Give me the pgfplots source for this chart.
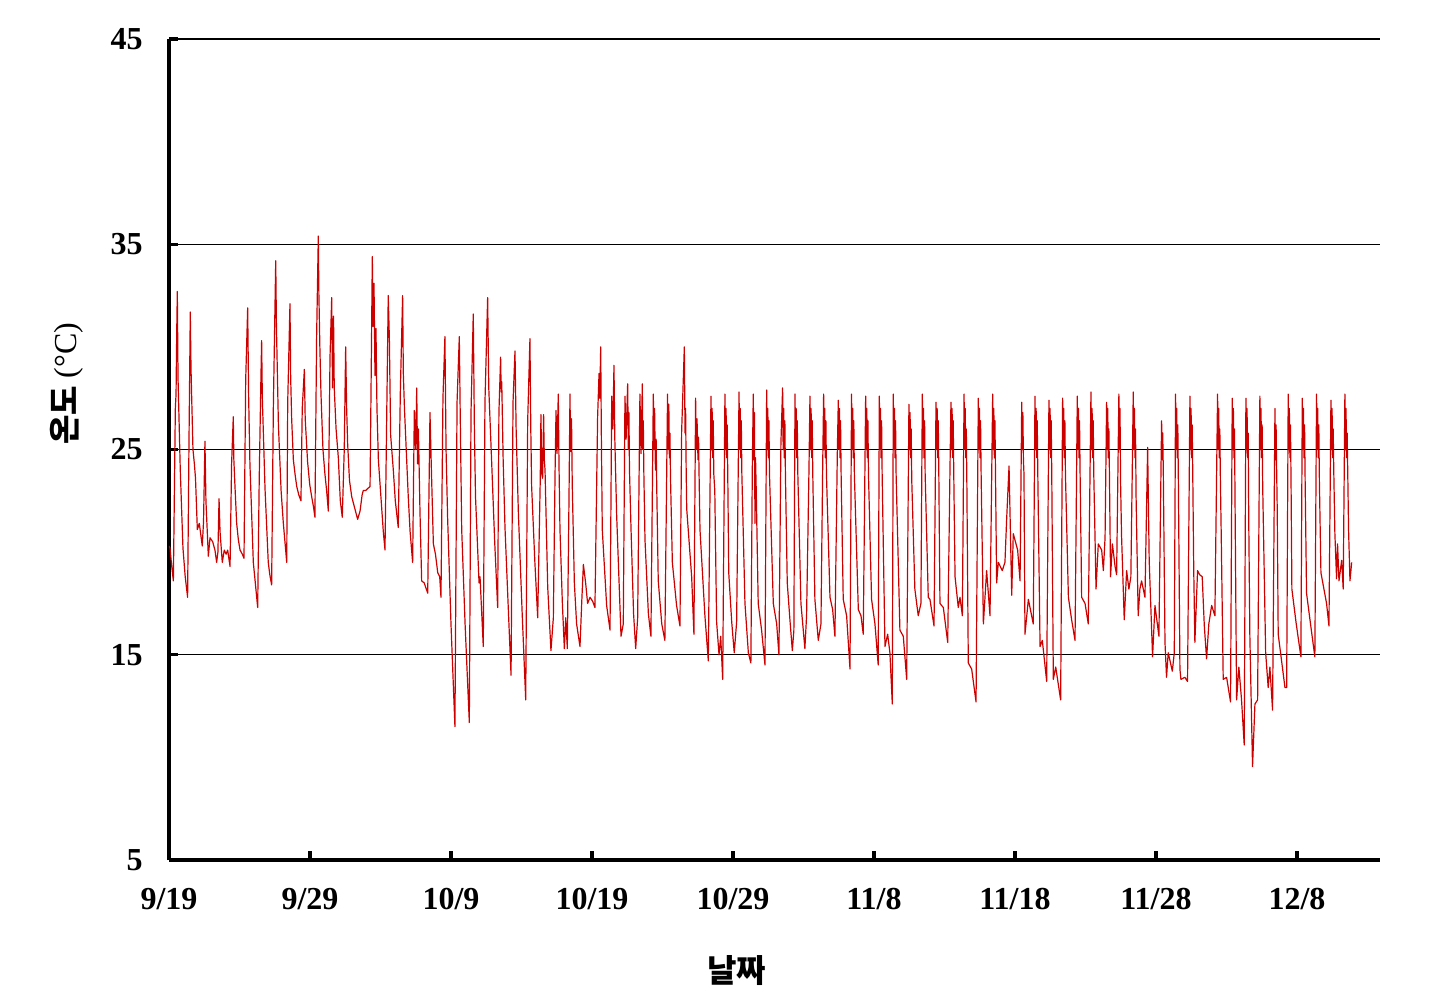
\documentclass[border=0pt]{standalone}
\usepackage{pgfplots}
\pgfplotsset{compat=1.18}
\usepackage{fontspec}
\setmainfont{Liberation Serif}
\newfontfamily\kr{Noto Sans CJK KR}
\definecolor{linered}{RGB}{205,0,0}
\pgfplotstableread{
x y
0.00 20.3
0.07 20.2
0.18 19.4
0.31 18.6
0.45 27.0
0.50 27.7
0.55 30.8
0.59 32.7
0.64 28.5
0.80 24.0
0.99 20.2
1.15 18.8
1.32 17.8
1.42 25.5
1.51 31.7
1.56 29.0
1.60 27.8
1.70 25.0
1.80 24.3
1.88 23.6
2.01 21.1
2.15 21.4
2.36 20.3
2.45 21.5
2.55 25.4
2.62 22.5
2.79 19.8
2.91 20.7
3.10 20.5
3.26 20.1
3.38 19.5
3.47 20.0
3.55 22.6
3.62 21.0
3.78 19.5
3.92 20.1
4.05 19.9
4.16 20.1
4.33 19.3
4.44 24.3
4.56 26.6
4.60 24.5
4.68 23.2
4.80 21.4
4.92 20.6
5.04 20.1
5.20 19.9
5.32 19.7
5.44 28.4
5.58 31.9
5.65 27.5
5.74 24.3
5.98 19.5
6.15 18.3
6.29 17.3
6.40 23.6
6.52 28.5
6.57 30.3
6.62 27.5
6.81 23.1
7.04 19.5
7.15 18.9
7.28 18.4
7.40 27.0
7.57 34.2
7.62 31.0
7.76 26.2
7.95 23.0
8.11 21.4
8.25 20.3
8.35 19.5
8.42 27.3
8.58 32.1
8.63 28.5
8.70 26.5
8.82 24.5
8.94 23.8
9.06 23.2
9.20 22.8
9.36 22.5
9.45 27.0
9.60 28.9
9.66 26.5
9.83 24.4
9.98 23.3
10.12 22.7
10.25 22.2
10.35 21.7
10.47 30.5
10.59 35.4
10.63 32.6
10.70 30.0
10.78 27.7
10.92 25.0
11.06 23.8
11.18 23.0
11.30 22.0
11.42 29.5
11.54 32.4
11.60 28.0
11.67 31.5
11.72 28.0
11.85 26.0
12.01 24.6
12.15 22.5
12.29 21.7
12.43 25.0
12.53 30.0
12.60 27.0
12.67 25.3
12.80 23.5
12.96 22.7
13.15 22.2
13.38 21.6
13.55 22.0
13.70 22.8
13.78 23.0
13.95 23.0
14.10 23.1
14.26 23.2
14.36 30.0
14.42 34.4
14.48 31.0
14.54 33.1
14.61 28.6
14.68 30.9
14.75 27.0
14.85 24.5
15.05 22.5
15.20 21.0
15.32 20.1
15.43 26.0
15.55 32.5
15.63 30.4
15.72 25.7
15.91 24.0
16.05 22.5
16.26 21.2
16.41 27.9
16.57 32.5
16.62 28.7
16.70 27.0
16.97 22.7
17.10 21.0
17.28 19.5
17.40 26.9
17.50 25.0
17.57 28.0
17.63 24.3
17.69 26.0
17.80 22.0
17.92 18.6
18.10 18.5
18.20 18.3
18.35 18.0
18.51 26.8
18.60 24.3
18.75 20.4
18.90 19.9
19.06 19.0
19.20 18.8
19.29 17.8
19.43 27.5
19.57 30.5
19.65 25.0
19.76 21.7
20.00 16.5
20.28 11.5
20.43 27.3
20.59 30.5
20.65 27.0
20.76 21.1
21.00 16.5
21.30 11.7
21.42 26.8
21.58 31.6
21.66 26.0
21.74 22.7
21.99 18.5
22.06 18.8
22.29 15.4
22.41 27.3
22.60 32.4
22.68 28.0
22.89 24.3
23.10 20.5
23.31 17.3
23.40 26.8
23.52 29.5
23.56 27.8
23.60 28.3
23.70 24.5
23.83 21.2
24.05 17.5
24.26 14.0
24.40 27.3
24.54 29.8
24.62 26.0
24.78 21.9
25.05 17.0
25.30 12.8
25.44 26.4
25.60 30.4
25.66 26.0
25.72 23.2
25.95 19.5
26.15 16.8
26.33 23.5
26.38 26.7
26.44 23.8
26.50 23.6
26.57 26.7
26.62 24.5
26.67 24.0
26.86 18.3
27.09 15.2
27.26 16.8
27.38 23.8
27.45 26.9
27.52 24.8
27.61 27.7
27.66 24.3
27.73 21.1
27.90 17.5
28.04 15.3
28.14 16.8
28.25 15.3
28.37 22.6
28.44 27.7
28.48 25.0
28.51 24.9
28.55 26.5
28.60 23.3
28.75 18.5
28.91 16.5
29.15 15.4
29.27 17.5
29.39 19.4
29.55 18.5
29.69 17.5
29.86 17.8
30.05 17.6
30.21 17.3
30.40 26.6
30.50 28.7
30.55 27.5
30.62 30.0
30.66 26.0
30.73 21.1
31.04 17.4
31.28 16.2
31.40 27.6
31.48 26.0
31.56 29.1
31.62 25.5
31.75 21.8
32.06 15.9
32.22 16.5
32.34 27.6
32.42 25.5
32.53 28.2
32.58 25.0
32.62 26.8
32.66 24.0
32.77 21.1
32.95 17.0
33.10 15.3
33.24 16.8
33.40 27.7
33.48 24.8
33.57 28.2
33.60 25.0
33.64 26.4
33.68 23.8
33.76 20.6
34.00 17.0
34.18 15.9
34.35 27.7
34.40 25.0
34.44 27.0
34.50 24.0
34.55 25.5
34.59 23.3
34.70 18.6
34.95 16.5
35.17 15.7
35.36 27.7
35.40 25.0
35.45 27.2
35.49 24.6
35.53 25.8
35.57 23.6
35.70 19.5
36.00 17.4
36.24 16.4
36.36 25.9
36.55 30.0
36.60 25.8
36.64 27.0
36.68 24.0
36.72 22.1
37.07 18.8
37.23 16.0
37.35 27.5
37.40 25.0
37.45 26.5
37.52 24.5
37.56 25.6
37.59 24.0
37.66 21.1
38.01 16.9
38.25 14.7
38.44 27.6
38.48 25.0
38.52 27.0
38.56 24.6
38.60 26.4
38.64 23.8
38.71 23.0
38.84 16.6
39.01 15.0
39.13 15.9
39.27 13.8
39.43 27.7
39.47 25.0
39.51 27.0
39.55 24.6
39.59 26.2
39.63 23.8
39.70 19.0
39.91 16.6
40.09 15.1
40.26 16.6
40.43 27.8
40.47 25.0
40.51 27.0
40.55 24.6
40.59 26.4
40.63 23.8
40.85 17.5
41.09 15.1
41.27 14.6
41.37 24.0
41.44 27.7
41.48 24.5
41.52 26.8
41.56 21.4
41.60 24.6
41.65 23.0
41.79 17.5
42.03 16.2
42.27 14.5
42.39 27.9
42.43 25.0
42.47 27.0
42.51 24.6
42.55 26.4
42.59 23.8
42.86 17.5
43.10 16.5
43.26 15.0
43.40 25.3
43.52 28.0
43.56 25.0
43.60 27.0
43.64 24.6
43.68 26.4
43.72 23.8
43.85 18.5
44.04 16.7
44.21 15.2
44.32 16.2
44.40 27.7
44.44 25.0
44.48 27.0
44.52 24.6
44.56 26.4
44.60 23.8
44.82 17.5
45.10 15.3
45.22 16.9
45.39 24.0
45.46 27.6
45.50 25.0
45.54 27.0
45.58 24.6
45.62 26.4
45.66 23.8
45.81 17.7
46.05 15.7
46.24 16.5
46.36 24.0
46.43 27.7
46.47 25.0
46.51 27.0
46.55 24.6
46.59 26.4
46.63 23.8
46.88 17.8
47.07 17.2
47.23 15.9
47.40 24.8
47.47 27.4
47.51 25.0
47.55 27.0
47.59 24.6
47.63 26.4
47.67 23.8
47.82 17.7
48.06 16.9
48.30 14.3
48.41 27.7
48.45 25.0
48.49 27.0
48.53 24.6
48.57 26.4
48.61 23.8
48.89 17.2
49.08 16.9
49.24 16.0
49.41 27.6
49.45 25.0
49.49 27.0
49.53 24.6
49.57 26.4
49.61 23.8
49.83 17.7
50.07 16.5
50.30 14.5
50.38 27.6
50.42 25.0
50.46 27.0
50.50 24.6
50.54 26.4
50.58 23.8
50.78 15.4
50.97 16.0
51.13 15.1
51.30 12.6
51.37 27.7
51.41 25.0
51.45 27.0
51.49 24.6
51.53 26.4
51.57 23.8
51.84 16.2
52.08 15.9
52.32 13.8
52.48 27.2
52.52 25.0
52.56 26.8
52.60 24.6
52.64 26.0
52.68 23.5
52.90 18.2
53.14 16.9
53.33 17.5
53.43 27.7
53.47 25.0
53.51 27.0
53.55 24.6
53.59 26.4
53.63 23.8
53.85 17.8
53.97 17.7
54.26 16.4
54.40 27.3
54.44 25.0
54.48 27.0
54.52 24.6
54.56 26.4
54.60 23.8
54.68 17.5
54.92 17.3
55.23 15.6
55.39 24.0
55.46 27.3
55.50 25.0
55.54 27.0
55.58 24.6
55.62 26.4
55.66 23.8
55.75 18.8
55.98 17.3
56.10 17.8
56.27 16.9
56.39 27.7
56.43 25.0
56.47 27.0
56.51 24.6
56.55 26.0
56.59 23.2
56.69 14.6
56.93 14.3
57.24 12.7
57.40 27.5
57.44 25.0
57.48 27.0
57.52 24.6
57.56 26.4
57.60 23.8
57.76 16.5
57.99 19.1
58.23 16.9
58.42 27.7
58.46 25.0
58.50 27.0
58.54 24.6
58.58 26.4
58.62 23.8
58.70 18.5
58.82 19.5
59.10 19.1
59.29 19.5
59.41 21.6
59.58 24.2
59.77 17.9
59.88 20.9
60.19 20.1
60.36 18.6
60.48 27.3
60.52 25.0
60.56 26.8
60.60 24.5
60.64 23.8
60.71 16.0
60.95 17.7
61.30 16.5
61.42 27.6
61.46 25.0
61.50 27.0
61.54 24.6
61.58 26.4
61.62 23.8
61.78 15.4
61.94 15.7
62.25 13.7
62.41 27.4
62.45 25.0
62.49 27.0
62.53 24.6
62.57 26.4
62.61 23.8
62.72 13.8
62.89 14.4
63.24 12.8
63.38 27.5
63.42 25.0
63.46 27.0
63.50 24.6
63.54 26.4
63.58 23.8
63.79 17.8
64.02 16.7
64.26 15.7
64.42 27.6
64.46 25.0
64.50 27.0
64.54 24.6
64.58 26.4
64.62 23.8
64.73 17.8
64.97 17.5
65.20 16.5
65.39 27.8
65.43 25.0
65.47 27.0
65.51 24.6
65.55 26.4
65.59 23.8
65.75 18.2
65.91 20.4
66.15 20.1
66.27 19.1
66.39 20.7
66.50 27.3
66.54 25.0
66.58 27.0
66.62 24.6
66.66 26.0
66.70 23.8
66.78 18.8
66.91 20.4
67.10 19.3
67.21 18.9
67.37 27.7
67.41 25.0
67.45 27.0
67.49 23.4
67.56 20.8
67.75 16.7
67.92 19.1
68.08 18.2
68.22 18.8
68.32 24.0
68.39 27.8
68.43 25.0
68.47 27.0
68.51 24.6
68.55 26.0
68.59 22.7
68.74 16.9
68.86 18.2
68.98 18.6
69.22 17.8
69.41 25.1
69.52 19.6
69.76 14.9
69.93 17.4
70.21 15.9
70.40 26.4
70.44 24.5
70.48 25.8
70.52 24.0
70.64 15.6
70.75 13.9
70.87 15.1
71.16 14.2
71.30 15.1
71.39 27.7
71.43 25.0
71.47 27.0
71.51 24.6
71.55 26.2
71.59 23.4
71.70 14.3
71.77 13.8
72.05 13.9
72.24 13.7
72.41 27.6
72.45 25.0
72.49 27.0
72.53 24.6
72.57 26.2
72.61 23.8
72.68 19.1
72.76 15.6
72.95 19.1
73.10 18.9
73.28 18.8
73.43 16.4
73.59 14.8
73.75 16.5
73.95 17.4
74.18 16.9
74.37 27.7
74.41 25.0
74.45 27.0
74.49 24.6
74.53 26.0
74.57 23.5
74.63 20.8
74.77 13.8
75.01 13.9
75.29 12.7
75.41 27.5
75.45 25.0
75.49 27.0
75.53 24.6
75.57 26.0
75.61 22.4
75.72 12.8
75.88 14.4
76.07 12.8
76.26 10.6
76.38 27.5
76.42 25.0
76.46 27.0
76.50 24.6
76.54 25.8
76.58 21.6
76.66 15.9
76.85 9.55
77.02 12.6
77.21 12.8
77.37 27.6
77.41 25.0
77.45 27.0
77.49 24.6
77.53 26.2
77.57 23.2
77.78 15.1
77.96 13.4
78.08 14.4
78.27 12.3
78.44 27.0
78.48 24.5
78.52 26.2
78.56 24.0
78.60 22.1
78.67 16.0
78.91 14.7
79.15 13.4
79.27 13.4
79.38 27.7
79.42 25.0
79.46 27.0
79.50 24.6
79.54 26.2
79.58 23.5
79.64 18.2
79.95 16.5
80.28 14.9
80.38 27.5
80.42 25.0
80.46 27.0
80.50 24.6
80.54 26.2
80.58 23.5
80.68 18.0
81.00 16.3
81.27 14.9
81.39 27.7
81.43 25.0
81.47 27.0
81.51 24.6
81.55 26.2
81.59 23.5
81.70 19.0
82.10 17.5
82.27 16.4
82.41 27.4
82.45 25.0
82.49 27.0
82.53 24.6
82.57 26.0
82.61 24.0
82.69 20.9
82.81 18.7
82.88 20.4
82.98 18.6
83.17 19.6
83.28 18.2
83.40 27.7
83.44 25.0
83.48 27.0
83.52 24.6
83.56 25.8
83.60 24.0
83.66 21.1
83.76 18.6
83.88 19.5
}\temps
\begin{document}
\begin{tikzpicture}
\path[use as bounding box] (-84.5pt,-73.5pt) rectangle (636.5pt,430pt);
\begin{axis}[
  at={(0pt,0pt)}, anchor=south west,
  scale only axis, width=605.5pt, height=410.5pt,
  xmin=0, xmax=85.89, ymin=5, ymax=45,
  axis x line*=bottom, axis y line*=left,
  axis line style={line width=2pt, black},
  xtick={0,10,20,30,40,50,60,70,80},
  xticklabels={9/19,9/29,10/9,10/19,10/29,11/8,11/18,11/28,12/8},
  ytick={5,15,25,35,45},
  yticklabels={5,15,25,35,45},
  tick align=inside,
  major tick length=4.5pt,
  tick style={line width=1.6pt, black},
  ymajorgrids,
  major grid style={line width=0.6pt, black},
  ticklabel style={font=\bfseries\fontsize{16}{16}\selectfont},
  yticklabel style={anchor=east, inner sep=0pt, xshift=-13pt},
  xticklabel style={anchor=north, inner sep=0pt, yshift=-14pt},
  xlabel={\kr\bfseries 날짜},
  ylabel={{\kr\bfseries 온도} (°C)},
  label style={font=\fontsize{16}{16}\selectfont},
  xlabel style={at={(axis description cs:0.469,-0.134)}, anchor=center},
  ylabel style={at={(axis description cs:-0.0842,0.58)}, anchor=center, rotate=0},
]
\addplot[color=linered, line width=0.6pt, line join=round] table[x=x,y=y] {\temps};
\end{axis}
\end{tikzpicture}
\end{document}
